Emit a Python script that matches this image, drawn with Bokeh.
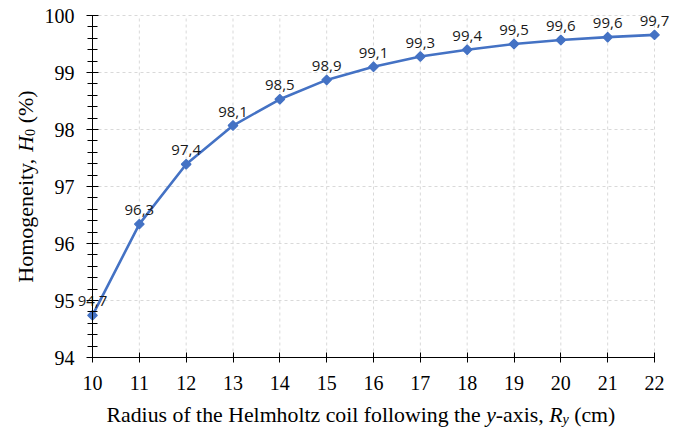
import math
from bokeh.plotting import figure
from bokeh.models import Range1d, FixedTicker, Label, ColumnDataSource
from bokeh.core.properties import value
from bokeh.embed import file_html
from bokeh.resources import INLINE

# ---------------- data ----------------
radius_cm = [10, 11, 12, 13, 14, 15, 16, 17, 18, 19, 20, 21, 22]
homogeneity = [94.74, 96.34, 97.39, 98.07, 98.53, 98.87, 99.10, 99.28, 99.40, 99.50, 99.57, 99.62, 99.66]
value_labels = ["94,7", "96,3", "97,4", "98,1", "98,5", "98,9", "99,1", "99,3", "99,4", "99,5", "99,6", "99,6", "99,7"]
x_ticks = [10, 11, 12, 13, 14, 15, 16, 17, 18, 19, 20, 21, 22]
y_ticks = [94, 95, 96, 97, 98, 99, 100]
y_minor_ticks = [94 + i * 0.2 for i in range(31)]

BLUE = "#4472C4"
SERIF = "Liberation Serif"

# ---------------- layout (pixels on the page) ----------------
W, H = 680, 430
PLOT_L, PLOT_R, PLOT_T, PLOT_B = 92, 654, 15, 357   # where the plot area sits
xmin, xmax = x_ticks[0], x_ticks[-1]
ymin, ymax = y_ticks[0], y_ticks[-1]
kx = (PLOT_R - PLOT_L) / (xmax - xmin)
ky = (PLOT_B - PLOT_T) / (ymax - ymin)
x_range = Range1d(xmin - PLOT_L / kx, xmax + (W - PLOT_R) / kx)
y_range = Range1d(ymin - (H - PLOT_B) / ky, ymax + PLOT_T / ky)

p = figure(width=W, height=H, output_backend="svg", toolbar_location=None,
           x_range=x_range, y_range=y_range,
           min_border_left=0, min_border_right=0, min_border_top=0, min_border_bottom=0)
p.outline_line_color = None
p.background_fill_color = "white"
p.border_fill_color = "white"
p.xgrid.visible = False
p.ygrid.visible = False

# dashed grid limited to the plot area
n_x, n_y = len(x_ticks), len(y_ticks)
p.segment(x0=x_ticks, y0=[ymin] * n_x, x1=x_ticks, y1=[ymax] * n_x,
          line_color="#d9d9d9", line_dash="3 3", line_width=1)
p.segment(x0=[xmin] * n_y, y0=y_ticks, x1=[xmax] * n_y, y1=y_ticks,
          line_color="#d9d9d9", line_dash="3 3", line_width=1)

# axes fixed at the plot-area edges
p.xaxis.fixed_location = ymin
p.xaxis.bounds = (xmin, xmax)
p.yaxis.fixed_location = xmin
p.yaxis.bounds = (ymin, ymax)
p.xaxis.ticker = FixedTicker(ticks=x_ticks)
p.yaxis.ticker = FixedTicker(ticks=y_ticks, minor_ticks=y_minor_ticks)
for ax in (p.xaxis[0], p.yaxis[0]):
    ax.axis_line_color = "black"
    ax.axis_line_width = 1
    ax.major_tick_line_color = "black"
    ax.minor_tick_line_color = "black"
    ax.major_label_text_font = SERIF
    ax.major_label_text_font_size = "20px"
    ax.major_label_text_color = "black"
p.xaxis.major_tick_in = 5
p.xaxis.major_tick_out = 5
p.xaxis.minor_tick_in = 0
p.xaxis.minor_tick_out = 0
p.xaxis.major_label_standoff = 13
p.yaxis.major_tick_in = 6
p.yaxis.major_tick_out = 6
p.yaxis.minor_tick_in = 5
p.yaxis.minor_tick_out = 5
p.yaxis.major_label_standoff = 12

src = ColumnDataSource(dict(x=radius_cm, y=homogeneity, lab=value_labels))
p.line("x", "y", source=src, line_color=BLUE, line_width=2.6)
p.scatter("x", "y", source=src, marker="square", size=6.8, angle=math.pi / 4,
          fill_color=BLUE, line_color=BLUE, line_width=1.2)
p.text("x", "y", text="lab", source=src, text_font=value("Open Sans"), text_font_size="15px",
       text_color="#1a1a1a", text_align="center", text_baseline="alphabetic", y_offset=-14)

# ---------- axis titles with mixed styles (Times metrics) ----------
REG = {' ': 250, 'R': 667, 'a': 444, 'd': 500, 'i': 278, 'u': 500, 's': 389, 'o': 500,
       'f': 333, 't': 278, 'h': 500, 'e': 444, 'H': 722, 'l': 278, 'm': 778, 'z': 444,
       'c': 444, 'w': 722, 'n': 500, 'g': 500, '-': 333, 'x': 500, ',': 250, '(': 333,
       ')': 333, '%': 833, 'y': 500, '0': 500}
ITA = {'y': 444, 'R': 611, 'H': 722}


def text_width(s, size, italic=False):
    tab = ITA if italic else REG
    return sum(tab.get(ch, REG.get(ch, 500)) for ch in s) * size / 1000.0


SUB = 0.65
x_pieces = [("Radius of the Helmholtz coil following the ", False, 1.0, 0),
            ("y", True, 1.0, 0),
            ("-axis, ", False, 1.0, 0),
            ("R", True, 1.0, 0),
            ("y", True, SUB, 0.22),
            (" (cm)", False, 1.0, 0)]
y_pieces = [("Homogeneity, ", False, 1.0, 0),
            ("H", True, 1.0, 0),
            ("0", False, SUB, 0.2),
            (" (%)", False, 1.0, 0)]


def add_piece(txt, it, size, sx, sy, angle=0.0):
    p.add_layout(Label(x=sx, y=sy, x_units="screen", y_units="screen",
                       text=txt, text_font=SERIF, text_font_size=f"{size:.1f}px",
                       text_font_style="italic" if it else "normal", text_color="black",
                       text_align="left", text_baseline="alphabetic", angle=angle))


def lay_out(pieces, fs, start, place):
    cur = start
    for txt, it, sc, shift in pieces:
        size = fs * sc
        lead = len(txt) - len(txt.lstrip(" "))
        cur += text_width(" " * lead, size)
        core = txt.strip(" ")
        place(core, it, size, cur, shift * fs)
        cur += text_width(core, size, it)
        trail = len(txt) - len(txt.rstrip(" "))
        cur += text_width(" " * trail, size)


# x title: starts at page x 106, baseline near page y 419
XFS = 21.8
lay_out(x_pieces, XFS, 106.0,
        lambda t, it, s, pos, sh: add_piece(t, it, s, pos, H - 414 - sh))

# y title: rotated, centred on the plot area
YFS = 22
total = sum(text_width(t, YFS * s, i) for t, i, s, _ in y_pieces)
lay_out(y_pieces, YFS, (H - (PLOT_T + PLOT_B) / 2) - total / 2,
        lambda t, it, s, pos, sh: add_piece(t, it, s, 25 + sh, pos, math.pi / 2))

open("out.html", "w").write(file_html(p, INLINE))
